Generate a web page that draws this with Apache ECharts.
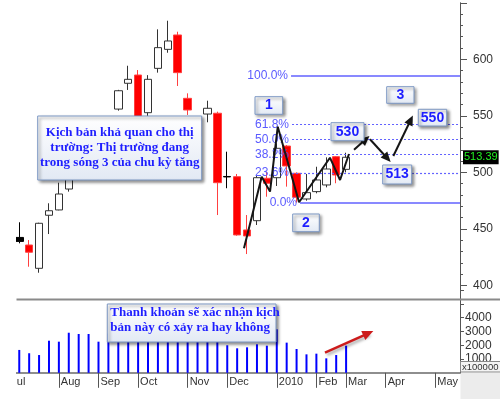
<!DOCTYPE html>
<html>
<head>
<meta charset="utf-8">
<style>
html, body { margin: 0; padding: 0; background: #fff; }
#chart { width: 500px; height: 399px; }
</style>
<script src="https://cdn.jsdelivr.net/npm/echarts@6/dist/echarts.min.js"></script>
</head>
<body>
<div id="chart"></div>
<script>
// trading weeks (Monday), Tet week 2010-02-15 has no trading
const weeks = [
  '2009-06-29', '2009-07-06', '2009-07-13', '2009-07-20', '2009-07-27',
  '2009-08-03', '2009-08-10', '2009-08-17', '2009-08-24', '2009-08-31',
  '2009-09-07', '2009-09-14', '2009-09-21', '2009-09-28', '2009-10-05',
  '2009-10-12', '2009-10-19', '2009-10-26', '2009-11-02', '2009-11-09',
  '2009-11-16', '2009-11-23', '2009-11-30', '2009-12-07', '2009-12-14',
  '2009-12-21', '2009-12-28', '2010-01-04', '2010-01-11', '2010-01-18',
  '2010-01-25', '2010-02-01', '2010-02-08', '2010-02-22', '2010-03-01',
  '2010-03-08', '2010-03-15', '2010-03-22', '2010-03-29', '2010-04-05',
  '2010-04-12', '2010-04-19', '2010-04-26', '2010-05-03', '2010-05-10',
  '2010-05-17'
];

// month tick labels, keyed by week index
const monthLabels = {
  0: 'Jul', 5: 'Aug', 9: 'Sep', 13: 'Oct', 18: 'Nov', 22: 'Dec',
  27: '2010', 31: 'Feb', 34: 'Mar', 38: 'Apr', 43: 'May'
};

// [open, close, low, high]
const ohlc = [
  null,
  [442.5, 439.0, 437.3, 455.9],
  [435.8, 429.4, 416.6, 440.2],
  [415.2, 455.0, 411.3, 455.5],
  [462.1, 466.1, 445.5, 472.7],
  [466.8, 480.9, 466.5, 490.9],
  [485.3, 500.0, 483.0, 505.0],
  [498.0, 512.0, 494.0, 516.0],
  [515.0, 506.0, 500.0, 520.0],
  [505.0, 525.0, 502.0, 530.0],
  [524.0, 545.0, 520.0, 549.0],
  [556.0, 572.2, 554.6, 573.0],
  [578.8, 582.3, 572.9, 594.3],
  [586.1, 545.0, 543.0, 590.5],
  [552.8, 582.3, 549.0, 586.0],
  [592.0, 610.3, 588.2, 626.5],
  [608.8, 616.2, 605.8, 634.1],
  [621.5, 588.2, 576.4, 624.4],
  [565.5, 555.2, 550.8, 569.9],
  [548.0, 532.0, 525.0, 549.0],
  [551.6, 556.7, 544.3, 563.4],
  [552.3, 490.9, 462.3, 553.7],
  [496.4, 496.0, 486.0, 518.3],
  [496.2, 444.7, 444.0, 498.6],
  [449.1, 443.8, 427.8, 462.3],
  [457.3, 495.3, 453.5, 497.0],
  [494.8, 490.4, 478.5, 500.6],
  [495.3, 521.3, 488.0, 525.7],
  [523.3, 505.7, 487.4, 524.2],
  [499.2, 478.0, 473.2, 500.0],
  [476.5, 482.1, 475.0, 498.6],
  [483.0, 493.3, 481.5, 505.0],
  [488.9, 503.0, 486.8, 513.3],
  [513.9, 497.7, 490.4, 514.5],
  [502.7, 513.39, 500.0, 517.4]
];
const blackCandles = [1, 22];

// volume, x100000
const volume = [
  null, 1660, 1420, 1290, 2330, 2260, 2910, 2820, 2820, 2260,
  2850, 3000, 3300, 3500, 3100, 3400, 3600, 3200, 3700, 3300,
  2900, 3100, 2000, 1780, 1850, 2070, 1970, 3160, 2190, 1730,
  1340, 1390, 1050, 1290, 1970
];

// hand drawn wave path: [week position, price]
const wavePath = [
  [24.19, 433.0], [25.98, 496.2], [26.82, 483.0], [27.60, 540.4],
  [29.75, 473.6], [32.87, 513.0], [33.89, 493.3], [34.79, 516.3]
];
const forecastArrows = [
  [[35.30, 520.0], [36.48, 529.3]],
  [[36.91, 529.3], [38.66, 512.5]],
  [[39.27, 514.5], [41.02, 546.3]]
];
const volumeArrow = [[32.37, 1460], [36.74, 2870]];

// fibonacci retracement from 473.2 to 585.2
const fibLow = 473.2, fibHigh = 585.2;
const fibRatios = [1, 0.618, 0.5, 0.382, 0.236, 0];
const fibNames = ['100.0%', '61.8%', '50.0%', '38.2%', '23.6%', '0.0%'];
const fibStart = [28.94, 29.04, 29.04, 29.04, 29.04, 29.85];

const lastPrice = 513.39;

const GRID_LEFT = 4.4, GRID_W = 455.6;
const N = weeks.length;
const BLUE_TXT = '#1e1eff';

const chart = echarts.init(document.getElementById('chart'), null, { renderer: 'canvas' });

const candleData = weeks.map((w, i) => {
  const v = ohlc[i];
  if (!v) return '-';
  if (blackCandles.includes(i)) {
    return { value: v, itemStyle: { color: '#000', color0: '#000', borderColor: '#000', borderColor0: '#000' } };
  }
  return v;
});
const volumeData = weeks.map((w, i) => volume[i] == null ? '-' : volume[i]);

const fibLines = fibRatios.map((r, k) => {
  const val = +(fibLow + r * (fibHigh - fibLow)).toFixed(2);
  const solid = r === 0 || r === 1;
  return [
    {
      coord: [fibStart[k], val],
      symbol: 'none',
      lineStyle: { color: '#6262ff', width: solid ? 1.5 : 1.2, type: solid ? 'solid' : [2, 2] },
      label: { show: true, position: 'start', formatter: fibNames[k], color: '#5a5aff', fontSize: 12, fontFamily: 'Liberation Sans', distance: 3 }
    },
    { coord: [N, val], symbol: 'none' }
  ];
});
const arrowLines = forecastArrows.map(a => [
  { coord: a[0], symbol: 'none', lineStyle: { color: '#151515', width: 2, type: 'solid' }, label: { show: false } },
  { coord: a[1], symbol: 'triangle', symbolSize: [9, 10] }
]);

function noteBox(x, y, w, h, text, font, align) {
  const tx = align === 'left' ? 3 : w / 2;
  return {
    type: 'group', x: x, y: y,
    children: [
      {
        type: 'rect', z: 100, shape: { x: 0, y: 0, width: w, height: h },
        style: {
          fill: { type: 'linear', x: 0, y: 0, x2: 0, y2: 1, colorStops: [{ offset: 0, color: '#ffffff' }, { offset: 1, color: '#e2e9f4' }] },
          stroke: '#7d98c4', lineWidth: 1,
          shadowBlur: 3, shadowOffsetX: 2, shadowOffsetY: 2, shadowColor: 'rgba(0,0,0,0.45)'
        }
      },
      {
        type: 'text', z: 101,
        style: Object.assign({
          text: text, x: tx, y: align === 'left' ? 1.5 : h / 2,
          align: align === 'left' ? 'left' : 'center',
          verticalAlign: align === 'left' ? 'top' : 'middle',
          fill: BLUE_TXT
        }, font)
      }
    ]
  };
}

const serifFont = { fontFamily: 'Liberation Serif', fontWeight: 'bold', fontSize: 13, lineHeight: 15 };
const numFont = { fontFamily: 'Liberation Sans', fontWeight: 'bold', fontSize: 14 };

const option = {
  animation: false,
  backgroundColor: '#fff',
  textStyle: { fontFamily: 'Liberation Sans' },
  grid: [
    { left: GRID_LEFT, width: GRID_W, top: 2.75, height: 282.75 },
    { left: GRID_LEFT, width: GRID_W, top: 285.5, height: 87.3 }
  ],
  xAxis: [
    { type: 'category', gridIndex: 0, data: weeks, show: false },
    {
      type: 'category', gridIndex: 1, data: weeks, position: 'bottom',
      axisLine: { onZero: false, lineStyle: { color: '#6a6a6a', width: 1.5 } },
      axisTick: { alignWithLabel: true, interval: 0, length: 3, lineStyle: { color: '#555' } },
      axisLabel: { show: false }
    },
    { type: 'value', gridIndex: 0, min: 0, max: N, show: false, position: 'top' },
    { type: 'value', gridIndex: 1, min: 0, max: N, show: false, position: 'top' },
    {
      type: 'category', gridIndex: 1, data: weeks, position: 'bottom',
      axisLine: { show: false, onZero: false },
      axisTick: { show: true, alignWithLabel: true, length: 15, interval: i => monthLabels[i] != null, lineStyle: { color: '#555' } },
      axisLabel: {
        interval: i => monthLabels[i] != null,
        formatter: (v, i) => monthLabels[i] || '',
        align: 'left', margin: 4, padding: [0, 0, 0, 2],
        color: '#333', fontSize: 11, fontFamily: 'Liberation Sans'
      }
    }
  ],
  yAxis: [
    {
      type: 'value', gridIndex: 0, position: 'right', min: 400, max: 650, interval: 50,
      splitLine: { show: false },
      axisLine: { show: true, onZero: false, lineStyle: { color: '#555' } },
      axisTick: { show: true, length: 7, lineStyle: { color: '#555' } },
      minorTick: { show: true, splitNumber: 5, length: 3, lineStyle: { color: '#555' } },
      axisLabel: { margin: 13, color: '#333', fontSize: 12, formatter: v => v === 650 ? '' : v }
    },
    {
      type: 'value', gridIndex: 1, position: 'right', min: 0, max: 6340, interval: 1000,
      splitLine: { show: false },
      axisLine: { show: true, onZero: false, lineStyle: { color: '#555' } },
      axisTick: { show: true, length: 4, lineStyle: { color: '#555' } },
      axisLabel: { margin: 5, color: '#333', fontSize: 12, formatter: v => (v >= 1000 && v <= 4000) ? v : '' }
    }
  ],
  series: [
    {
      type: 'candlestick', xAxisIndex: 0, yAxisIndex: 0,
      data: candleData, barWidth: 8,
      itemStyle: { color: '#ffffff', color0: '#ff0000', borderColor: '#333', borderColor0: '#ff4040', borderWidth: 1 },
      markLine: {
        silent: true, symbol: 'none', animation: false,
        data: [{ yAxis: lastPrice }],
        lineStyle: { color: 'rgba(0,0,0,0)', width: 0 },
        label: {
          show: true, position: 'end', distance: 3, formatter: String(lastPrice),
          color: '#22ee22', backgroundColor: '#000', padding: [2, 1, 1, 1],
          fontSize: 11, fontFamily: 'Liberation Sans'
        }
      }
    },
    {
      type: 'line', xAxisIndex: 2, yAxisIndex: 0,
      data: wavePath, showSymbol: false, symbol: 'none',
      lineStyle: { color: '#151515', width: 2 }, z: 5,
      markLine: {
        silent: true, animation: false, symbol: ['none', 'none'], precision: 2,
        data: fibLines.concat(arrowLines)
      }
    },
    {
      type: 'bar', xAxisIndex: 1, yAxisIndex: 1,
      data: volumeData, barWidth: 2,
      itemStyle: { color: '#0000ff' }
    },
    {
      type: 'line', xAxisIndex: 3, yAxisIndex: 1, data: [],
      markLine: {
        silent: true, animation: false,
        data: [[
          { coord: volumeArrow[0], symbol: 'none' },
          { coord: volumeArrow[1], symbol: 'triangle', symbolSize: [10, 11] }
        ]],
        label: { show: false },
        lineStyle: { color: '#cc1b1b', width: 2.5, type: 'solid', shadowBlur: 3, shadowOffsetX: 2, shadowOffsetY: 2, shadowColor: 'rgba(0,0,0,0.35)' }
      }
    }
  ],
  graphic: [
    { type: 'rect', z: 90, shape: { x: 0, y: 0, width: 16, height: 399 }, style: { fill: '#fff' } },
    { type: 'line', z: 90, shape: { x1: 16.5, y1: 299.5, x2: 500, y2: 299.5 }, style: { stroke: '#8a8a8a', lineWidth: 2 } },
    { type: 'rect', z: 90, shape: { x: 460.5, y: 373, width: 40, height: 26 }, style: { fill: '#ececec' } },
    {
      type: 'group', x: 460.5, y: 361.5,
      children: [
        { type: 'rect', z: 95, shape: { x: 0, y: 0, width: 42, height: 10.5 }, style: { fill: '#f4f4f4', stroke: '#888', lineWidth: 1 } },
        { type: 'text', z: 96, style: { text: 'x100000', x: 1.5, y: 5.5, verticalAlign: 'middle', fill: '#333', fontSize: 9.5, fontFamily: 'Liberation Sans' } }
      ]
    },
    noteBox(37.7, 116, 164, 64, 'Kịch bản khả quan cho thị\ntrường: Thị trường đang\ntrong sóng 3 của chu kỳ tăng', serifFont, 'center'),
    noteBox(107.3, 304, 168.7, 38, 'Thanh khoản sẽ xác nhận kịch\nbản này có xảy ra hay không', Object.assign({}, serifFont, { lineHeight: 14.5 }), 'left'),
    noteBox(255, 96.7, 27.7, 17.6, '1', numFont, 'center'),
    noteBox(292.7, 214, 26.6, 17.7, '2', numFont, 'center'),
    noteBox(331, 122.7, 33, 18, '530', numFont, 'center'),
    noteBox(382.7, 165, 29, 19, '513', numFont, 'center'),
    noteBox(386.7, 86.7, 27.3, 16.6, '3', numFont, 'center'),
    noteBox(418.3, 109.3, 28.4, 16.7, '550', numFont, 'center')
  ]
};

chart.setOption(option);
</script>
</body>
</html>
